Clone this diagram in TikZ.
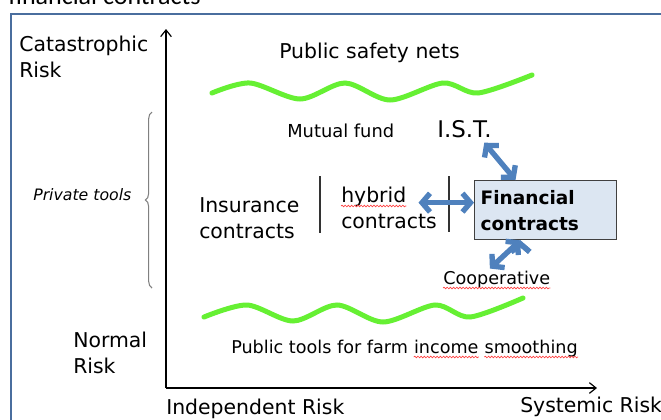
\documentclass[tikz,border=0pt]{standalone}
\usepackage{fontspec}
\setmainfont{DejaVu Sans}
\newfontfamily\calfont{Carlito}
\usetikzlibrary{arrows.meta, decorations.pathreplacing, decorations.pathmorphing, positioning, calc}
\definecolor{framebl}{RGB}{74,110,158}
\definecolor{wavegreen}{RGB}{102,240,51}
\definecolor{arrowbl}{RGB}{79,129,189}
\definecolor{finfill}{RGB}{220,230,242}

\begin{document}
\begin{tikzpicture}[x=0.75pt,y=-0.75pt,
    lbl/.style={inner sep=0pt,anchor=base west,align=left,
      font=\fontsize{15.3pt}{19.4pt}\selectfont},
    small/.style={lbl,font=\fontsize{13.2pt}{16pt}\selectfont},
    finbox/.style={draw=black!75,line width=1pt,fill=finfill,anchor=north west,
      minimum width=106.5pt,minimum height=44.25pt,inner xsep=4.5pt,inner ysep=0pt,
      text width=97.5pt,align=left,font=\bfseries\fontsize{13.9pt}{19.5pt}\selectfont},
    axis/.style={line width=0.9pt,-{Straight Barb[length=5pt,width=8pt]}},
    dblarrow/.style={draw=arrowbl,line width=4pt,
      {Straight Barb[length=6pt,width=14pt]}-{Straight Barb[length=6pt,width=14pt]}},
    wave/.style={draw=wavegreen,line width=3.75pt,line cap=round},
    spell/.style={draw=red!75,line width=0.5pt,decorate,
      decoration={snake,amplitude=0.6pt,segment length=2.4pt}},
    sep/.style={draw=black!80,line width=0.9pt},
    frame/.style={draw=framebl,line width=1.5pt}]
    \useasboundingbox (0,0) rectangle (661,419);
    \draw[frame] (10.5,440) |- (680,13.5);
    \node[lbl,font=\calfont\fontsize{19.5pt}{20pt}\selectfont] (title) at (8,4) {financial contracts};

    \node[lbl] (cat) at (19,77) {Catastrophic\\Risk};
    \node[lbl] (norm) at (73,373) {Normal\\Risk};
    \node[lbl] (indep) at (166,414) {Independent Risk};
    \node[lbl] (syst) at (520,412) {Systemic Risk};
    \node[lbl] (safety) at (279,58) {Public safety nets};
    \node[small,font=\fontsize{13.4pt}{16pt}\selectfont] (mutual) at (287,137) {Mutual fund};
    \node[lbl,font=\fontsize{17.2pt}{20pt}\selectfont] (ist) at (437,137) {I.S.T.};
    \node[lbl,font=\itshape\fontsize{11.8pt}{14pt}\selectfont] (priv) at (33,200) {Private tools};
    \node[lbl] (ins) at (199,238) {Insurance\\contracts};
    \node[lbl] (hyb) at (341,202) {hybrid};
    \node[lbl] (hybc) at (341,228) {contracts};
    \node[finbox] (fin) at (474,180) {Financial\\contracts};
    \node[small] (coop) at (443,284) {Cooperative};
    \node[small] (ptools) at (231,353) {Public tools for farm};
    \node[small] (inc) at ([xshift=4.2pt]ptools.base east) {income};
    \node[small] (smooth) at ([xshift=4.2pt]inc.base east) {smoothing};

    \draw[spell] ([yshift=-3pt]hyb.base west) -- ([yshift=-3pt]hyb.base east);
    \draw[spell] ([yshift=-3pt]coop.base west) -- ([yshift=-3pt]coop.base east);
    \draw[spell] ([yshift=-3pt]inc.base west) -- ([yshift=-3pt]inc.base east);
    \draw[spell] ([yshift=-3pt]smooth.base west) -- ([yshift=-3pt]smooth.base east);

    \coordinate (O) at (166,388);
    \coordinate (ytip) at (166,29);
    \coordinate (xtip) at (597,388);
    \draw[axis] (O) -- (ytip);
    \draw[axis] (O) -- (xtip);

    \draw[sep] (320,176) -- (320,233);
    \draw[sep] (449,176) -- (449,232);
    \draw[gray,line width=0.8pt,decorate,decoration={brace,amplitude=5pt}] (152,288) -- (152,112);

    \draw[wave] plot[smooth] coordinates {(212,93) (250,83) (300,99) (345,83) (390,100) (443,83) (478,93) (532,75)};
    \draw[wave] plot[smooth] coordinates {(204,317) (247,305) (293,321) (337,305) (383,322) (435,305) (470,317) (523,298)};

    \path[dblarrow]
    (ist.-30) edge [shorten <=5pt] (fin.135)
    (hyb.east |- fin.174) edge [shorten <=9pt] (fin.174)
    (fin.230) edge [shorten >=2pt] (coop.135)
    ;
\end{tikzpicture}
\end{document}
